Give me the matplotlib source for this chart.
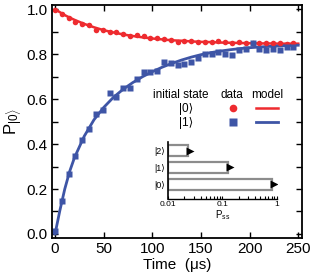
import numpy as np
import matplotlib
matplotlib.use('Agg')
import matplotlib.pyplot as plt
from matplotlib.ticker import MultipleLocator, LogLocator, NullFormatter

plt.rcParams['font.family'] = ['Liberation Sans', 'DejaVu Sans']
plt.rcParams['mathtext.fontset'] = 'custom'
plt.rcParams['mathtext.rm'] = 'Liberation Sans'
plt.rcParams['mathtext.it'] = 'Liberation Sans'

# 数据
t_data = [0, 7, 14, 21, 28, 35, 42, 49, 56, 63, 70, 77, 84, 91, 98, 105, 112, 119,
          126, 133, 140, 147, 154, 161, 168, 175, 182, 189, 196, 203, 210, 217, 224,
          231, 238, 245]
p0_data = [0.999, 0.978, 0.963, 0.944, 0.936, 0.928, 0.910, 0.910, 0.898, 0.898, 0.889,
           0.880, 0.884, 0.880, 0.872, 0.870, 0.866, 0.864, 0.855, 0.860, 0.860, 0.855,
           0.855, 0.855, 0.860, 0.855, 0.851, 0.855, 0.851, 0.848, 0.851, 0.848, 0.851,
           0.848, 0.846, 0.848]
p1_data = [0.013, 0.147, 0.267, 0.347, 0.418, 0.467, 0.533, 0.551, 0.627, 0.610, 0.650,
           0.650, 0.688, 0.720, 0.720, 0.726, 0.764, 0.759, 0.752, 0.758, 0.764, 0.785,
           0.799, 0.803, 0.808, 0.803, 0.796, 0.821, 0.825, 0.850, 0.825, 0.821, 0.825,
           0.818, 0.830, 0.832]

t_model = [0, 5, 10, 15, 20, 30, 40, 50, 60, 70, 80, 90, 100, 110, 120, 130, 140, 150,
           160, 170, 180, 190, 200, 210, 220, 230, 240, 250]
p0_model = [1.000, 0.987, 0.974, 0.963, 0.953, 0.935, 0.920, 0.907, 0.897, 0.888, 0.881,
            0.875, 0.870, 0.866, 0.862, 0.860, 0.857, 0.855, 0.854, 0.852, 0.851, 0.850,
            0.849, 0.848, 0.848, 0.847, 0.847, 0.847]
p1_model = [0.000, 0.105, 0.200, 0.278, 0.340, 0.435, 0.508, 0.563, 0.608, 0.644, 0.674,
            0.700, 0.722, 0.742, 0.759, 0.774, 0.787, 0.798, 0.807, 0.814, 0.820, 0.825,
            0.829, 0.832, 0.835, 0.837, 0.839, 0.840]

# 稳态分布 (inset)
ss_states = ['|0⟩', '|1⟩', '|2⟩']
ss_data = [0.80, 0.126, 0.023]
ss_model = [0.88, 0.137, 0.025]

RED = '#EE2B2F'
BLUE = '#3E55A6'

fig = plt.figure(figsize=(3.32, 2.79), dpi=100)
ax = fig.add_axes([0.157, 0.147, 0.753, 0.835])

ax.plot(t_model, p0_model, '-', color=RED, lw=1.8)
ax.plot(t_model, p1_model, '-', color=BLUE, lw=2.0)
ax.plot(t_data, p0_data, 'o', color=RED, ms=4.0, mec='none')
ax.plot(t_data, p1_data, 's', color=BLUE, ms=4.4, mec='none')

ax.set_xlim(-3, 254)
ax.set_ylim(-0.018, 1.019)
ax.xaxis.set_major_locator(MultipleLocator(50))
ax.yaxis.set_major_locator(MultipleLocator(0.2))
ax.yaxis.set_minor_locator(MultipleLocator(0.1))
ax.yaxis.set_major_formatter(matplotlib.ticker.FormatStrFormatter('%.1f'))
ax.tick_params(which='both', direction='in', top=True, right=True, labelsize=11,
               width=1.0, pad=3)
ax.tick_params(which='major', length=4)
ax.tick_params(which='minor', length=4)
for s in ax.spines.values():
    s.set_linewidth(1.3)

ax.set_xlabel('Time  (μs)', fontsize=11, labelpad=1)
ax.set_ylabel(r'P$_{|0\rangle}$', fontsize=12, labelpad=2)

# 图例 (manual table)
tr = ax.transAxes
fs = 8.5
ax.text(0.404, 0.614, 'initial state', transform=tr, fontsize=fs, va='center', ha='left')
ax.text(0.718, 0.614, 'data', transform=tr, fontsize=fs, va='center', ha='center')
ax.text(0.860, 0.614, 'model', transform=tr, fontsize=fs, va='center', ha='center')
ax.text(0.536, 0.555, '|0⟩', transform=tr, fontsize=fs, va='center', ha='center')
ax.text(0.536, 0.495, '|1⟩', transform=tr, fontsize=fs, va='center', ha='center')
ax.plot([0.724], [0.558], 'o', color=RED, ms=5.5, mec='none', transform=tr)
ax.plot([0.724], [0.498], 's', color=BLUE, ms=5.5, mec='none', transform=tr)
ax.plot([0.816, 0.904], [0.558, 0.558], '-', color=RED, lw=1.8, transform=tr)
ax.plot([0.816, 0.904], [0.498, 0.498], '-', color=BLUE, lw=2.0, transform=tr)

# inset
ins = fig.add_axes([0.506, 0.287, 0.328, 0.204])
ypos = np.arange(len(ss_states))
ins.barh(ypos, [v - 0.01 for v in ss_data], left=0.01, height=0.68,
         color='white', edgecolor='#8C8C8C', lw=1.6)
ins.plot(ss_model, ypos, '>', color='black', ms=5.5, mec='none')
ins.set_xscale('log')
ins.set_xlim(0.01, 1.0)
ins.set_ylim(-0.88, 2.52)
ins.set_yticks(ypos)
ins.set_yticklabels(ss_states, fontsize=6.5)
ins.set_xticks([0.01, 0.1, 1])
ins.set_xticklabels(['0.01', '0.1', '1'], fontsize=6)
ins.xaxis.set_minor_locator(LogLocator(base=10, subs=np.arange(2, 10)))
ins.xaxis.set_minor_formatter(NullFormatter())
ins.tick_params(axis='x', which='both', direction='in', length=2.5, width=0.8, pad=1.5)
ins.tick_params(axis='y', length=0, pad=2)
ins.spines['top'].set_visible(False)
ins.spines['right'].set_visible(False)
ins.spines['left'].set_linewidth(1.2)
ins.spines['bottom'].set_linewidth(1.0)
ins.patch.set_alpha(0)
ins.set_xlabel(r'P$_{\rm ss}$', fontsize=7, labelpad=0)

fig.savefig('out.png', dpi=100)
